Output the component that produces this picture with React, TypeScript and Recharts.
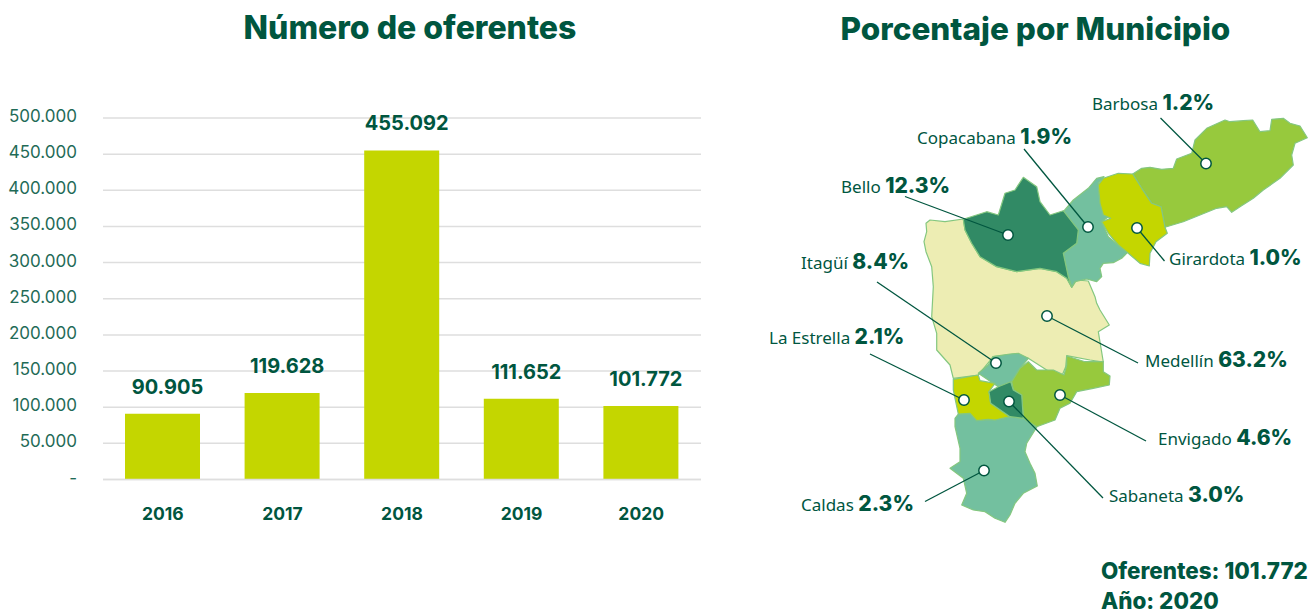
/**
 * Oferentes dashboard: bars per year on the left, municipal map on the right.
 * The map is a scatter chart whose axes run in picture units, so one unit is one pixel.
 */
import React from "react";
import {
  BarChart,
  Bar,
  CartesianGrid,
  LabelList,
  Scatter,
  ScatterChart,
  XAxis,
  YAxis,
} from "recharts";

const COLORS = {
  title: "#00563F",
  tick: "#1F6B57",
  grid: "#DEDEDE",
  bar: "#C4D600",
  lime: "#C4D600",
  green: "#97C93D",
  mint: "#73C09F",
  forest: "#318A65",
  cream: "#EDEDB3",
  border: "#84C77F",
};

const FONT = "Inter, 'Noto Sans', sans-serif";
const LABEL_FONT = "'Noto Sans', sans-serif";

const YEARS = ["2016", "2017", "2018", "2019", "2020"];
const OFERENTES = [90905, 119628, 455092, 111652, 101772];
const Y_TICKS = [0, 50000, 100000, 150000, 200000, 250000, 300000, 350000, 400000, 450000, 500000];

const barData = YEARS.map((year, i) => ({ year, value: OFERENTES[i] }));

const formatThousands = (v: number) =>
  v === 0 ? "-" : String(v).replace(/\B(?=(\d{3})+$)/g, ".");

// Municipalities, in paint order
const NAMES = ["Medellín", "Caldas", "Barbosa", "Copacabana", "Girardota", "Bello", "Itagüí", "Envigado", "La Estrella", "Sabaneta"];
const PERCENTS = [63.2, 2.3, 1.2, 1.9, 1.0, 12.3, 8.4, 4.6, 2.1, 3.0];
const FILLS = [COLORS.cream, COLORS.mint, COLORS.green, COLORS.mint, COLORS.lime, COLORS.forest, COLORS.mint, COLORS.green, COLORS.lime, COLORS.forest];
const DOTS = [[1047, 316], [984, 470.5], [1206, 163.5], [1088, 227], [1137, 228], [1008, 235], [996, 363], [1060, 395], [964, 400], [1009, 401.5]];
const LEADER_ENDS = [[1138, 363], [925, 501.5], [1160.5, 118], [1024, 149], [1164.5, 261], [905, 196.5], [877, 282], [1146, 441], [870, 354], [1103, 498]];
const LABEL_SPOTS = [[1145, 361], [801, 505], [1092, 104], [917, 138], [1169, 259], [841, 187], [801, 263], [1158, 439], [769, 338], [1109, 496]];

const OUTLINES = [
  // Medellín
  [[926, 223.3], [930, 220], [945, 221.7], [963.3, 219], [965, 230], [971.7, 243.3], [980, 256.7], [996.7, 266.7], [1016.7, 271.7], [1040, 268.3], [1056.7, 271.7], [1066.7, 278.3], [1071.7, 287.3], [1076.7, 280], [1088.3, 281], [1095, 296.7], [1096.7, 303.3], [1100, 310], [1109.3, 325], [1098.3, 331.7], [1103.3, 362], [1090, 360], [1066.7, 355.7], [1065.7, 366.7], [1062.3, 375], [1046.7, 370], [1028.3, 358.3], [1015, 354], [993.3, 356.7], [978.3, 375], [953.3, 378.3], [950, 365], [936.7, 350], [936.7, 333.3], [931.7, 316.7], [933.3, 286.7], [931.7, 266.7], [926, 251.7], [924, 241.7], [926.7, 231.7]],
  // Caldas
  [[955, 418.3], [958.3, 414], [970, 413.3], [976.7, 420.7], [988.3, 419.3], [995, 420], [1010, 416.7], [1023.3, 418.3], [1036.7, 427.3], [1026.7, 443.3], [1025, 451.7], [1030, 463.3], [1035, 473.3], [1037.3, 486], [1023.3, 493.3], [1015, 503.3], [1010, 515], [1005, 522.3], [995, 518.3], [985, 511.7], [973.3, 510], [961.7, 505], [966.7, 493.3], [963.3, 478.3], [950, 468.3], [960, 461.7], [960, 448.3], [955, 426.7]],
  // Barbosa
  [[1132.7, 174], [1141.7, 168.3], [1150, 167.3], [1161.7, 169.3], [1173.3, 168.3], [1176.7, 159], [1191.7, 153.3], [1195, 140], [1206.7, 128.3], [1225, 120], [1230, 121.7], [1243.3, 120.7], [1252.7, 120], [1260, 131.7], [1270, 130.7], [1271.7, 119.3], [1283.3, 118.3], [1290, 123.3], [1300, 126], [1307.3, 137.7], [1295, 143.3], [1291.7, 155], [1293.3, 165], [1280, 178.3], [1263.3, 190], [1253.3, 198.3], [1240, 206.7], [1231.7, 212.3], [1226.7, 206.7], [1216.7, 208.3], [1200, 215], [1183.3, 221.7], [1165, 227.3], [1161, 206.7], [1151.7, 203.3], [1141.7, 188.3]],
  // Copacabana
  [[1096.7, 178.3], [1104, 176.7], [1098.3, 183.3], [1100, 203.3], [1108.3, 216.7], [1101.7, 221.7], [1108.3, 236.7], [1120, 246.7], [1128.3, 251.7], [1121.7, 258.3], [1113.3, 262.7], [1103.3, 263.3], [1100, 268.3], [1101.7, 276.7], [1096.7, 281.7], [1086.7, 279], [1075, 281.7], [1071.7, 287.3], [1068.3, 276.7], [1063.3, 253.3], [1076.7, 243.3], [1078.3, 230], [1063.3, 211.7], [1073.3, 200], [1088.3, 188.3]],
  // Girardota
  [[1098.3, 185], [1103.3, 178.3], [1118.3, 173.3], [1132.7, 174], [1141.7, 188.3], [1151.7, 203.3], [1161, 206.7], [1165, 227.3], [1167.3, 233.3], [1156, 241.7], [1150, 253.3], [1149.3, 266], [1140, 263.3], [1128.3, 253.3], [1118.3, 245], [1108.3, 233.3], [1101.7, 221.7], [1110.7, 218.3], [1103.3, 215], [1100, 203.3]],
  // Bello
  [[963.3, 219.3], [986.7, 211.7], [998.3, 215], [1005, 193.3], [1015, 190], [1023.3, 177.3], [1036.7, 186.7], [1040, 201.7], [1050, 215], [1063.3, 210.7], [1078.3, 230], [1076.7, 243.3], [1063.3, 253.3], [1068.3, 276.7], [1071.7, 287.3], [1066.7, 278.3], [1056.7, 271.7], [1040, 268.3], [1016.7, 271.7], [996.7, 266.7], [980, 256.7], [971.7, 243.3], [965, 230]],
  // Itagüí
  [[992.7, 356.7], [1010, 354], [1018.3, 353.3], [1028.3, 358.3], [1020, 368.3], [1011.7, 381.7], [998.3, 386.7], [978.3, 373.3], [988.3, 365]],
  // Envigado
  [[1011.7, 381.7], [1020, 368.3], [1028.3, 361.7], [1036.7, 370], [1053.3, 370], [1064, 375], [1066.7, 365], [1066.7, 356], [1085, 361.7], [1103.3, 361.7], [1103.3, 371.7], [1110, 376], [1109.3, 385], [1093.3, 388.3], [1076.7, 391.7], [1070, 403.3], [1060, 408.3], [1055, 420], [1036.7, 426.7], [1023.3, 418.3], [1021.7, 395], [1013.3, 390]],
  // La Estrella
  [[953.3, 379.3], [978.3, 375], [980, 380.7], [995, 383.3], [989, 391.7], [990.7, 403.3], [1010, 416.7], [995, 420], [988.3, 419.3], [976.7, 420.7], [970, 413.3], [958.3, 414], [955, 398.3], [953.3, 390]],
  // Sabaneta
  [[989, 391.7], [998.3, 386.7], [1010.7, 381.7], [1013.3, 390], [1021.7, 395], [1023.3, 418.3], [1010, 416.7], [990.7, 403.3]],
];

const municipios = NAMES.map((name, i) => ({
  name,
  percent: PERCENTS[i],
  fill: FILLS[i],
  outline: OUTLINES[i],
  x: DOTS[i][0],
  y: DOTS[i][1],
}));

const labelPoints = NAMES.map((name, i) => ({
  name,
  percent: PERCENTS[i],
  x: LABEL_SPOTS[i][0],
  y: LABEL_SPOTS[i][1],
}));

const MAP_LEFT = 740;
const MAP_TOP = 60;
const MAP_WIDTH = 571;
const MAP_HEIGHT = 553;

const RegionShape = (props: any) => {
  const { cx, cy, payload } = props;
  const dx = cx - payload.x;
  const dy = cy - payload.y;
  const points = payload.outline.map(([px, py]: number[]) => `${px + dx},${py + dy}`).join(" ");
  return <polygon points={points} fill={payload.fill} stroke={COLORS.border} strokeWidth={1.2} strokeLinejoin="round" />;
};

const DotShape = (props: any) => (
  <circle cx={props.cx} cy={props.cy} r={5.2} fill="#fff" stroke={COLORS.title} strokeWidth={1.5} />
);

const LabelShape = (props: any) => {
  const { cx, cy, payload } = props;
  return (
    <text x={cx} y={cy + 6} fill={COLORS.title}>
      <tspan fontFamily={LABEL_FONT} fontSize={17}>{payload.name} </tspan>
      <tspan fontFamily={FONT} fontSize={21} fontWeight={800}>{payload.percent.toFixed(1)}%</tspan>
    </text>
  );
};

const HiddenPoint = () => null;

const MunicipalMap = () => (
  <ScatterChart width={MAP_WIDTH} height={MAP_HEIGHT} margin={{ top: 0, right: 0, bottom: 0, left: 0 }}>
    <XAxis type="number" dataKey="x" hide domain={[MAP_LEFT, MAP_LEFT + MAP_WIDTH]} allowDataOverflow />
    <YAxis type="number" dataKey="y" hide reversed domain={[MAP_TOP, MAP_TOP + MAP_HEIGHT]} allowDataOverflow />
    <Scatter data={municipios} shape={RegionShape} isAnimationActive={false} />
    {municipios.map((m, i) => (
      <Scatter
        key={m.name}
        data={[
          { x: m.x, y: m.y },
          { x: LEADER_ENDS[i][0], y: LEADER_ENDS[i][1] },
        ]}
        line={{ stroke: COLORS.title, strokeWidth: 1.3 }}
        shape={HiddenPoint}
        isAnimationActive={false}
      />
    ))}
    <Scatter data={municipios} shape={DotShape} isAnimationActive={false} />
    <Scatter data={labelPoints} shape={LabelShape} isAnimationActive={false} />
  </ScatterChart>
);

const Heading = ({ children, center, y, size }: { children: React.ReactNode; center: number; y: number; size: number }) => (
  <div
    style={{
      position: "absolute",
      left: center - 300,
      top: y,
      width: 600,
      textAlign: "center",
      fontFamily: FONT,
      fontWeight: 800,
      fontSize: size,
      lineHeight: "36px",
      color: COLORS.title,
    }}
  >
    {children}
  </div>
);

export default function App() {
  return (
    <div style={{ position: "absolute", left: 0, top: 0, width: 1311, height: 613, overflow: "hidden", background: "#fff" }}>
      <Heading center={410} y={10} size={32}>Número de oferentes</Heading>
      <Heading center={1035.5} y={11} size={31.5}>Porcentaje por Municipio</Heading>

      <div style={{ position: "absolute", left: 0, top: 0 }}>
        <BarChart width={720} height={560} data={barData} margin={{ top: 118, right: 19, bottom: 40.5, left: 18 }}>
          <CartesianGrid vertical={false} stroke={COLORS.grid} strokeWidth={1.5} />
          <XAxis
            dataKey="year"
            height={40}
            axisLine={{ stroke: COLORS.grid, strokeWidth: 1.5 }}
            tickLine={false}
            tickMargin={22}
            tick={{ fill: COLORS.title, fontFamily: FONT, fontSize: 17.5, fontWeight: 700 }}
          />
          <YAxis
            width={85}
            domain={[0, 500000]}
            ticks={Y_TICKS}
            interval={0}
            axisLine={false}
            tickLine={false}
            tickMargin={20}
            tickFormatter={formatThousands}
            tick={{ fill: COLORS.tick, fontFamily: FONT, fontSize: 17, dy: -2 }}
          />
          <Bar dataKey="value" fill={COLORS.bar} barSize={75} isAnimationActive={false}>
            <LabelList
              dataKey="value"
              position="top"
              offset={20}
              dx={5}
              formatter={formatThousands}
              style={{ fill: COLORS.title, fontFamily: FONT, fontSize: 20, fontWeight: 700 }}
            />
          </Bar>
        </BarChart>
      </div>

      <div style={{ position: "absolute", left: MAP_LEFT, top: MAP_TOP }}>
        <MunicipalMap />
      </div>

      <div
        style={{
          position: "absolute",
          left: 1101,
          top: 556,
          fontFamily: FONT,
          fontWeight: 800,
          fontSize: 22.4,
          lineHeight: "30px",
          color: COLORS.title,
          whiteSpace: "nowrap",
        }}
      >
        <div>Oferentes: 101.772</div>
        <div>Año: 2020</div>
      </div>
    </div>
  );
}
